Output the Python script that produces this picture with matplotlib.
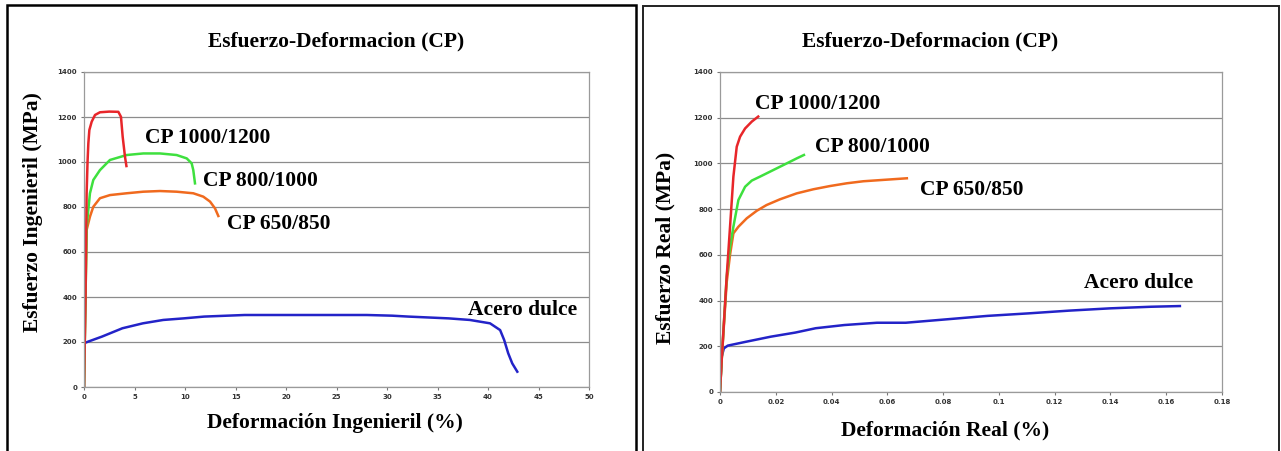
import matplotlib
matplotlib.use("Agg")
import matplotlib.pyplot as plt
from matplotlib.patches import Rectangle

# --- datos: ingenieril (deformacion %, esfuerzo MPa) ---
ing_cp1000_x = [0, 0.15, 0.26, 0.35, 0.43, 0.53, 0.76, 1.09, 1.58, 2.5, 3.4, 3.66, 3.83, 4.06, 4.2]
ing_cp1000_y = [0, 400, 861, 1000, 1083, 1142, 1179, 1209, 1221, 1224, 1223, 1201, 1112, 1023, 982]

ing_cp800_x = [0, 0.15, 0.26, 0.59, 0.92, 1.58, 2.57, 4.22, 5.87, 7.52, 9.17, 10.17, 10.66, 10.82, 10.99]
ing_cp800_y = [0, 400, 712, 861, 920, 964, 1009, 1031, 1038, 1038, 1031, 1016, 994, 964, 905]

ing_cp650_x = [0, 0.15, 0.26, 0.59, 0.92, 1.58, 2.57, 4.22, 5.87, 7.52, 9.17, 10.82, 11.81, 12.48, 12.97, 13.3]
ing_cp650_y = [0, 400, 698, 757, 801, 839, 853, 861, 868, 871, 868, 861, 846, 824, 794, 760]

ing_acero_x = [0, 0, 0.37, 1.78, 3.8, 5.83, 7.85, 9.87, 11.9, 15.9, 19.9, 24.0, 28.0, 30.5, 32.1,
               36.1, 38.2, 40.2, 41.2, 41.6, 42.0, 42.4, 42.9]
ing_acero_y = [0, 194, 201, 224, 261, 283, 298, 305, 313, 320, 320, 320, 320, 317, 313,
               305, 298, 283, 253, 209, 150, 105, 68]

# --- datos reales (deformacion, esfuerzo MPa) ---
real_cp1000_x = [0, 0.0006, 0.0024, 0.0036, 0.0048, 0.006, 0.0072, 0.009, 0.0114, 0.0137]
real_cp1000_y = [0, 140, 505, 723, 942, 1073, 1117, 1153, 1183, 1205]

real_cp800_x = [0, 0.0006, 0.0024, 0.0036, 0.0048, 0.0066, 0.009, 0.0114, 0.0143, 0.0191, 0.0239, 0.0275, 0.0301]
real_cp800_y = [0, 140, 505, 636, 723, 840, 898, 925, 942, 971, 1000, 1022, 1037]

real_cp650_x = [0, 0.0006, 0.0024, 0.0036, 0.0048, 0.0066, 0.0096, 0.0132, 0.0167, 0.0215, 0.0275, 0.0335,
                0.0394, 0.0454, 0.0514, 0.0574, 0.067]
real_cp650_y = [0, 140, 480, 600, 694, 723, 760, 793, 818, 843, 869, 887, 901, 913, 922, 927, 935]

real_acero_x = [0, 0.0006, 0.0014, 0.0028, 0.0094, 0.0182, 0.027, 0.0343, 0.0446, 0.0563, 0.0666,
                0.0813, 0.0959, 0.1106, 0.1252, 0.1399, 0.1546, 0.1649]
real_acero_y = [0, 154, 191, 203, 220, 242, 260, 279, 293, 303, 303, 318, 333, 344, 356, 366, 373, 376]

rojo = "#e8262a"
verde = "#3ee03e"
naranja = "#f06a1e"
azul = "#2323c8"
serif = "Liberation Serif"

fig = plt.figure(figsize=(12.81, 4.51), dpi=100)

# marcos de los dos paneles
fig.patches.append(Rectangle((7 / 1281, -0.05), (636 - 7) / 1281, 1 - 5 / 451 + 0.05,
                             transform=fig.transFigure, fill=False, ec="black", lw=1.8))
fig.patches.append(Rectangle((643 / 1281, -0.05), (1279 - 643) / 1281, 1 - 6 / 451 + 0.05,
                             transform=fig.transFigure, fill=False, ec="#222222", lw=1.4))

ax1 = fig.add_axes([84 / 1281, 1 - 387 / 451, 505 / 1281, 315 / 451])
ax2 = fig.add_axes([720 / 1281, 1 - 392 / 451, 502 / 1281, 320 / 451])

ax1.plot(ing_acero_x, ing_acero_y, color=azul, lw=1.8)
ax1.plot(ing_cp650_x, ing_cp650_y, color=naranja, lw=1.8)
ax1.plot(ing_cp800_x, ing_cp800_y, color=verde, lw=1.8)
ax1.plot(ing_cp1000_x, ing_cp1000_y, color=rojo, lw=1.8)
ax1.set_xlim(0, 50)
ax1.set_xticks(range(0, 51, 5))

ax2.plot(real_acero_x, real_acero_y, color=azul, lw=1.8)
ax2.plot(real_cp650_x, real_cp650_y, color=naranja, lw=1.8)
ax2.plot(real_cp800_x, real_cp800_y, color=verde, lw=1.8)
ax2.plot(real_cp1000_x, real_cp1000_y, color=rojo, lw=1.8)
ax2.set_xlim(0, 0.18)
ax2.set_xticks([0, 0.02, 0.04, 0.06, 0.08, 0.1, 0.12, 0.14, 0.16, 0.18])
ax2.set_xticklabels(["0", "0.02", "0.04", "0.06", "0.08", "0.1", "0.12", "0.14", "0.16", "0.18"])

for ax in (ax1, ax2):
    ax.set_ylim(0, 1400)
    ax.set_yticks(range(0, 1401, 200))
    ax.grid(axis="y", color="#8c8c8c", lw=0.9)
    ax.set_axisbelow(True)
    for s in ax.spines.values():
        s.set_color("#9a9a9a")
        s.set_linewidth(0.9)
    ax.tick_params(labelsize=5, pad=3, length=2, color="#777777", labelcolor="#333333")
    for lab in ax.get_xticklabels() + ax.get_yticklabels():
        lab.set_fontweight("bold")

# etiquetas de curvas
kw = dict(fontsize=15.5, fontweight="bold", family=serif, va="center")
ax1.text(6.0, 1107, "CP 1000/1200", **kw)
ax1.text(11.8, 916, "CP 800/1000", **kw)
ax1.text(14.2, 724, "CP 650/850", **kw)
ax1.text(38.0, 342, "Acero dulce", **kw)

ax2.text(0.0125, 1260, "CP 1000/1200", **kw)
ax2.text(0.0341, 1072, "CP 800/1000", **kw)
ax2.text(0.0717, 884, "CP 650/850", **kw)
ax2.text(0.1305, 477, "Acero dulce", **kw)

# titulos y ejes
tk = dict(fontsize=15.5, fontweight="bold", family=serif, ha="center", va="center")
fig.text(336 / 1281, 1 - 41 / 451, "Esfuerzo-Deformacion (CP)", **tk)
fig.text(930 / 1281, 1 - 41 / 451, "Esfuerzo-Deformacion (CP)", **tk)
fig.text(335 / 1281, 1 - 423 / 451, "Deformación Ingenieril (%)", **tk)
fig.text(945 / 1281, 1 - 430 / 451, "Deformación Real (%)", **tk)
fig.text(33 / 1281, 1 - 212 / 451, "Esfuerzo Ingenieril (MPa)", rotation=90, **tk)
fig.text(665 / 1281, 1 - 248 / 451, "Esfuerzo Real (MPa)", rotation=90, **tk)

fig.savefig("out.png", dpi=100)
